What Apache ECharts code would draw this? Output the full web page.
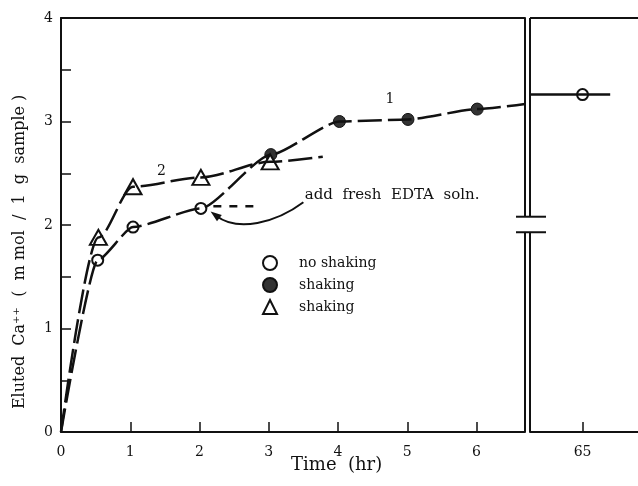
<!DOCTYPE html>
<html>
<head>
<meta charset="utf-8">
<script src="https://cdn.jsdelivr.net/npm/echarts@6/dist/echarts.min.js"></script>
<style>
  html, body { margin: 0; padding: 0; background: #fff; overflow: hidden; }
  #chart { width: 638px; height: 486px; }
</style>
</head>
<body>
<div id="chart"></div>
<script>
// Elution of Ca++ with EDTA over time (hr); the axis breaks after ~6.7 hr and resumes at 65 hr.
const hourTicks = [0, 1, 2, 3, 4, 5, 6];
const lateTicks = [65];
const yTickValues = [0.5, 1, 1.5, 2, 2.5, 3, 3.5, 4];
const yLabelValues = [0, 1, 2, 3, 4];

// no shaking (open circles)
const noShaking = [[0.53, 1.66], [1.04, 1.98], [2.02, 2.16]];
const noShakingLate = [[65, 3.26]];
// shaking (filled circles), after fresh EDTA soln. was added
const shakingFilled = [[3.03, 2.68], [4.02, 3.00], [5.01, 3.02], [6.01, 3.12]];
// shaking (triangles)
const shakingTri = [[0.54, 1.88], [1.04, 2.37], [2.02, 2.46], [3.02, 2.61]];

const origin = [0, 0];
const curve1End = [6.7, 3.17];      // curve 1 running into the break
const curve2End = [3.78, 2.66];     // curve 2 trailing end
const stubLine = [[2.2, 2.18], [2.82, 2.18]];   // dashed continuation without new soln.
const lateLine = [[64.24, 3.26], [65, 3.26], [65.4, 3.26]];

const curve1 = [origin, ...noShaking, ...shakingFilled, curve1End];
const curve2 = [origin, ...shakingTri, curve2End];

const FONT = 'DejaVu Serif';
const INK = '#111';

const chart = echarts.init(document.getElementById('chart'), null, { renderer: 'canvas' });

const axisLineStyle = { lineStyle: { color: INK, width: 2 } };
const dashLine = { color: INK, width: 2.5, type: [24, 6] };
const hidden = { axisTick: { show: false }, axisLabel: { show: false }, splitLine: { show: false } };

const option = {
  backgroundColor: '#fff',
  animation: false,
  grid: [
    { left: 61, top: 18, width: 464, height: 414, outerBoundsMode: 'none' },
    // the late panel runs past the right edge of the canvas, as the frame is open there
    { left: 530, top: 18, width: 112, height: 414, outerBoundsMode: 'none' }
  ],
  xAxis: [
    {
      type: 'value', gridIndex: 0, position: 'bottom', min: 0, max: 6.7,
      axisLine: axisLineStyle,
      axisTick: { inside: true, length: 10, lineStyle: { color: INK, width: 1.5 }, customValues: hourTicks },
      axisLabel: { customValues: hourTicks, color: INK, fontFamily: FONT, fontSize: 14, margin: 13 },
      splitLine: { show: false }
    },
    {
      type: 'value', gridIndex: 1, position: 'bottom', min: 64.24, max: 65.86,
      axisLine: axisLineStyle,
      axisTick: { inside: true, length: 10, lineStyle: { color: INK, width: 1.5 }, customValues: lateTicks },
      axisLabel: { customValues: lateTicks, color: INK, fontFamily: FONT, fontSize: 14, margin: 13 },
      splitLine: { show: false }
    },
    Object.assign({ type: 'value', gridIndex: 0, position: 'top', min: 0, max: 6.7, axisLine: axisLineStyle }, hidden)
  ],
  yAxis: [
    {
      type: 'value', gridIndex: 0, position: 'left', min: 0, max: 4,
      axisLine: axisLineStyle,
      axisTick: { inside: true, length: 10, lineStyle: { color: INK, width: 1.5 }, customValues: yTickValues },
      axisLabel: { customValues: yLabelValues, color: INK, fontFamily: FONT, fontSize: 14, margin: 8 },
      splitLine: { show: false }
    },
    { type: 'value', gridIndex: 1, position: 'left', min: 0, max: 4, show: false }
  ],
  legend: {
    orient: 'vertical', left: 257, top: 250,
    itemWidth: 14, itemHeight: 14, itemGap: 6,
    textStyle: { color: INK, fontFamily: FONT, fontSize: 14, padding: [0, 0, 0, 17] },
    data: ['no shaking', 'shaking', 'shaking ']
  },
  series: [
    {
      type: 'line', xAxisIndex: 0, yAxisIndex: 0, data: curve1,
      smooth: 0.2, smoothMonotone: 'x', showSymbol: false, silent: true, lineStyle: dashLine
    },
    {
      type: 'line', xAxisIndex: 0, yAxisIndex: 0, data: curve2,
      smooth: 0.3, smoothMonotone: 'x', showSymbol: false, silent: true, lineStyle: dashLine
    },
    {
      type: 'line', xAxisIndex: 0, yAxisIndex: 0, data: stubLine,
      showSymbol: false, silent: true,
      lineStyle: { color: INK, width: 2.5, type: [8, 8] }
    },
    {
      type: 'line', xAxisIndex: 1, yAxisIndex: 1, data: lateLine,
      showSymbol: false, silent: true, lineStyle: { color: INK, width: 2.5 }
    },
    {
      name: 'no shaking', type: 'scatter', xAxisIndex: 0, yAxisIndex: 0, data: noShaking,
      symbol: 'circle', symbolSize: 11,
      itemStyle: { color: '#fff', borderColor: INK, borderWidth: 2, opacity: 1 }
    },
    {
      name: 'no shaking', type: 'scatter', xAxisIndex: 1, yAxisIndex: 1, data: noShakingLate,
      symbol: 'circle', symbolSize: 11,
      itemStyle: { color: '#fff', borderColor: INK, borderWidth: 2, opacity: 1 }
    },
    {
      name: 'shaking', type: 'scatter', xAxisIndex: 0, yAxisIndex: 0, data: shakingFilled,
      symbol: 'circle', symbolSize: 12,
      itemStyle: { color: '#333', borderColor: INK, borderWidth: 1, opacity: 1 }
    },
    {
      name: 'shaking ', type: 'scatter', xAxisIndex: 0, yAxisIndex: 0, data: shakingTri,
      symbol: 'triangle', symbolSize: [17, 15],
      itemStyle: { color: '#fff', borderColor: INK, borderWidth: 2, opacity: 1 }
    }
  ]
};

chart.setOption(option);

// annotations, the arrow, the top border and the broken double line, placed through the axis scales
const px = (pt) => chart.convertToPixel({ xAxisIndex: 0, yAxisIndex: 0 }, pt);
const pxLate = (pt) => chart.convertToPixel({ xAxisIndex: 1, yAxisIndex: 1 }, pt);
const leftEdge = px([6.7, 0])[0];
const rightEdge = pxLate([64.24, 0])[0];
const farRight = pxLate([65.86, 0])[0];
const yTop = px([0, 4])[1];
const yBottom = px([0, 0])[1];
const breakTop = px([0, 2.08])[1];
const breakBottom = px([0, 1.93])[1];
const label1 = px([4.75, 3.21]);
const label2 = px([1.45, 2.52]);
const noteAt = px([3.52, 2.29]);
const yTitleAt = px([0, 1.74]);
const xTitleAt = px([3.98, 0]);
const canvasW = chart.getWidth();

// arrow from the note down to the 2 hr point
const arrowFrom = px([3.5, 2.22]);
const arrowCp1 = px([3.1, 2.02]);
const arrowCp2 = px([2.55, 1.93]);
const arrowTo = px([2.24, 2.09]);
const arrowTip = px([2.16, 2.13]);
const ang = Math.atan2(arrowTip[1] - arrowTo[1], arrowTip[0] - arrowTo[0]);
const headLen = 11, headHalf = 4;
const back = [arrowTip[0] - headLen * Math.cos(ang), arrowTip[1] - headLen * Math.sin(ang)];
const head = [
  arrowTip,
  [back[0] + headHalf * Math.sin(ang), back[1] - headHalf * Math.cos(ang)],
  [back[0] - headHalf * Math.sin(ang), back[1] + headHalf * Math.cos(ang)]
];

const textStyle = (t, size, extra) => Object.assign({ text: t, fill: INK, font: size + 'px "' + FONT + '"' }, extra);
const seg = (x1, y1, x2, y2) => ({ type: 'line', shape: { x1: x1, y1: y1, x2: x2, y2: y2 }, style: { stroke: INK, lineWidth: 2 }, z: 51 });

chart.setOption({
  graphic: [
    // keep the frame open along the right edge
    { type: 'rect', shape: { x: canvasW - 4, y: yTop + 1.5, width: 6, height: yBottom - yTop - 3 }, style: { fill: '#fff' }, z: 60 },
    seg(rightEdge, yTop, farRight, yTop),
    seg(leftEdge, yTop, leftEdge, breakTop), seg(leftEdge, breakBottom, leftEdge, yBottom),
    seg(rightEdge, yTop, rightEdge, breakTop), seg(rightEdge, breakBottom, rightEdge, yBottom),
    seg(leftEdge - 9, breakTop, rightEdge + 16, breakTop),
    seg(leftEdge - 9, breakBottom, rightEdge + 16, breakBottom),
    { type: 'bezierCurve', shape: { x1: arrowFrom[0], y1: arrowFrom[1], cpx1: arrowCp1[0], cpy1: arrowCp1[1], cpx2: arrowCp2[0], cpy2: arrowCp2[1], x2: arrowTo[0], y2: arrowTo[1] },
      style: { stroke: INK, lineWidth: 2, fill: null }, z: 51 },
    { type: 'polygon', shape: { points: head }, style: { fill: INK }, z: 51 },
    { type: 'text', x: label1[0], y: label1[1], style: textStyle('1', 14, { align: 'center', verticalAlign: 'middle' }), z: 52 },
    { type: 'text', x: label2[0], y: label2[1], style: textStyle('2', 14, { align: 'center', verticalAlign: 'middle' }), z: 52 },
    { type: 'text', x: noteAt[0], y: noteAt[1], style: textStyle('add  fresh  EDTA  soln.', 15, { align: 'left', verticalAlign: 'middle' }), z: 52 },
    { type: 'text', x: 20, y: yTitleAt[1], rotation: Math.PI / 2,
      style: textStyle('Eluted  Ca\u207A\u207A  (  m mol  /  1  g  sample )', 16, { align: 'center', verticalAlign: 'middle' }), z: 52 },
    { type: 'text', x: xTitleAt[0], y: 465, style: textStyle('Time  (hr)', 18, { align: 'center', verticalAlign: 'middle' }), z: 52 }
  ]
});
</script>
</body>
</html>
